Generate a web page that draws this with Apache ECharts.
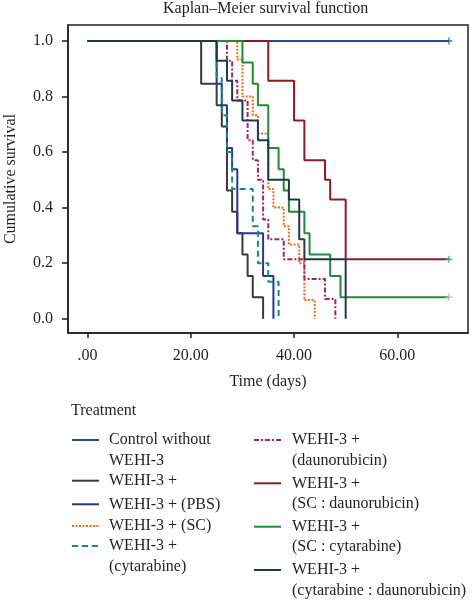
<!DOCTYPE html>
<html>
<head>
<meta charset="utf-8">
<script src="https://cdn.jsdelivr.net/npm/echarts@6/dist/echarts.min.js"></script>
<style>html,body{margin:0;padding:0;background:#fff}#c{width:473px;height:600px}</style>
</head>
<body>
<div id="c"></div>
<script>
// ---- data ----
const titleText = 'Kaplan\u2013Meier survival function';
const xName = 'Time (days)';
const yName = 'Cumulative survival';
const xTicks = [0, 20, 40, 60];
const xTickLabels = ['.00', '20.00', '40.00', '60.00'];
const yTicks = [0, 0.2, 0.4, 0.6, 0.8, 1.0];
const yTickLabels = ['0.0', '0.2', '0.4', '0.6', '0.8', '1.0'];
const legendTitle = 'Treatment';

const controlT = [0, 70];
const controlS = [1, 1];
const wehiT = [0, 22, 25, 26, 27, 28, 29, 30, 31, 32, 34];
const wehiS = [1, 0.846, 0.769, 0.692, 0.462, 0.385, 0.308, 0.231, 0.154, 0.077, 0];
const pbsT = [0, 25, 26, 27, 28, 29, 34, 36];
const pbsS = [1, 0.846, 0.769, 0.615, 0.538, 0.308, 0.154, 0];
const scT = [0, 29, 30, 32, 33, 35, 36, 38, 39, 41, 42, 44];
const scS = [1, 0.933, 0.8, 0.733, 0.667, 0.467, 0.4, 0.333, 0.267, 0.2, 0.067, 0];
const cytT = [0, 25, 26, 27, 28, 32, 33, 35, 37];
const cytS = [1, 0.867, 0.733, 0.6, 0.467, 0.333, 0.2, 0.133, 0];
const dauT = [0, 27, 28, 29, 31, 32, 33, 34, 35, 38, 42, 46, 48];
const dauS = [1, 0.929, 0.857, 0.786, 0.643, 0.571, 0.5, 0.357, 0.286, 0.214, 0.143, 0.071, 0];
const scDauT = [0, 35, 40, 42, 46, 47, 50, 70];
const scDauS = [1, 0.857, 0.714, 0.571, 0.5, 0.429, 0.214, 0.214];
const scCytT = [0, 30, 32, 33, 35, 37, 38, 39, 42, 43, 47, 49, 70];
const scCytS = [1, 0.923, 0.846, 0.769, 0.615, 0.538, 0.462, 0.385, 0.308, 0.231, 0.154, 0.077, 0.077];
const cytDauT = [0, 25, 27, 28, 30, 33, 35, 39, 41, 42, 50];
const cytDauS = [1, 0.929, 0.857, 0.786, 0.714, 0.643, 0.5, 0.429, 0.286, 0.214, 0];

const censorT = [70, 70, 70];
const censorS = [1, 0.214, 0.077];

const legendLabels = [
  ['Control without', 'WEHI-3'],
  ['WEHI-3 +'],
  ['WEHI-3 + (PBS)'],
  ['WEHI-3 + (SC)'],
  ['WEHI-3 +', '(cytarabine)'],
  ['WEHI-3 +', '(daunorubicin)'],
  ['WEHI-3 +', '(SC : daunorubicin)'],
  ['WEHI-3 +', '(SC : cytarabine)'],
  ['WEHI-3 +', '(cytarabine : daunorubicin)']
];

// ---- styling ----
const FONT = '"Liberation Serif", "DejaVu Serif", serif';
const TXT = '#231f20';
const styles = [
  { color: '#2d4b9b', type: 'solid' },
  { color: '#3a3a3a', type: 'solid' },
  { color: '#2b3596', type: 'solid' },
  { color: '#f26a21', type: [2, 1.5] },
  { color: '#17897c', type: [6, 4] },
  { color: '#a3265e', type: [5, 2, 2, 2] },
  { color: '#8b1c1f', type: 'solid' },
  { color: '#22893a', type: 'solid' },
  { color: '#1d3b47', type: 'solid' }
];
const censorColors = ['#2d4b9b', '#2aa0a8', '#b5b5b5'];
const allT = [controlT, wehiT, pbsT, scT, cytT, dauT, scDauT, scCytT, cytDauT];
const allS = [controlS, wehiS, pbsS, scS, cytS, dauS, scDauS, scCytS, cytDauS];

const series = allT.map((t, i) => ({
  type: 'line',
  name: legendLabels[i].join(' '),
  step: 'end',
  symbol: 'none',
  data: t.map((v, j) => [v, allS[i][j]]),
  lineStyle: { color: styles[i].color, width: 2, type: styles[i].type },
  z: 2 + i,
  animation: false
}));
series.push({
  type: 'scatter',
  symbol: 'path://M4,0 L6,0 L6,4 L10,4 L10,6 L6,6 L6,10 L4,10 L4,6 L0,6 L0,4 L4,4 Z',
  symbolSize: 7,
  data: censorT.map((t, i) => ({ value: [t, censorS[i]], itemStyle: { color: censorColors[i] } })),
  z: 20,
  animation: false
});

// legend drawn as graphic
const graphic = [];
graphic.push({ type: 'text', style: { text: legendTitle, x: 71, y: 411, font: '16px ' + FONT, fill: TXT, verticalAlign: 'middle' } });
const col1Y = [440, 480.7, 504.3, 526, 546];
const col2Y = [440, 483.3, 526.7, 570];
const lineGap = 20.5;
legendLabels.forEach((lab, i) => {
  const col = i < 5 ? 0 : 1;
  const y = col === 0 ? col1Y[i] : col2Y[i - 5];
  const lx1 = col === 0 ? 72 : 254;
  const tx = col === 0 ? 109 : 292;
  const st = styles[i];
  graphic.push({ type: 'line', shape: { x1: lx1, y1: y, x2: lx1 + 27, y2: y },
    style: { stroke: st.color, lineWidth: 2, lineDash: st.type === 'solid' ? null : st.type } });
  lab.forEach((s, k) => {
    graphic.push({ type: 'text', style: { text: s, x: tx, y: y + k * lineGap, font: '16px ' + FONT, fill: TXT, verticalAlign: 'middle' } });
  });
});

const chart = echarts.init(document.getElementById('c'), null, { renderer: 'canvas' });
chart.setOption({
  animation: false,
  backgroundColor: '#fff',
  title: { text: titleText, left: 158, top: -4,
    textStyle: { fontFamily: FONT, fontSize: 16, fontWeight: 'normal', color: TXT } },
  grid: { left: 68, right: 5, top: 25, bottom: 267, show: true, borderColor: TXT, borderWidth: 1.5,
    backgroundColor: 'transparent', containLabel: false, outerBoundsMode: 'none' },
  xAxis: {
    type: 'value', min: -3.8, max: 73.7,
    name: xName, nameLocation: 'middle', nameGap: 41,
    nameTextStyle: { fontFamily: FONT, fontSize: 16, color: TXT },
    axisLine: { show: true, onZero: false, lineStyle: { color: TXT, width: 1.5 } },
    axisTick: { show: true, length: 5, lineStyle: { color: TXT, width: 1.5 }, customValues: xTicks },
    axisLabel: { fontFamily: FONT, fontSize: 16, color: TXT, margin: 15, customValues: xTicks,
      formatter: v => xTickLabels[xTicks.indexOf(v)] ?? '' },
    splitLine: { show: false }
  },
  yAxis: {
    type: 'value', min: -0.0515, max: 1.0576,
    name: yName, nameLocation: 'middle', nameGap: 49, nameRotate: 90,
    nameTextStyle: { fontFamily: FONT, fontSize: 16, color: TXT },
    axisLine: { show: true, onZero: false, lineStyle: { color: TXT, width: 1.5 } },
    axisTick: { show: true, length: 6, lineStyle: { color: TXT, width: 1.5 }, customValues: yTicks },
    axisLabel: { fontFamily: FONT, fontSize: 16, color: TXT, margin: 15, customValues: yTicks,
      formatter: v => { const k = yTicks.findIndex(t => Math.abs(t - v) < 1e-6); return k >= 0 ? yTickLabels[k] : ''; } },
    splitLine: { show: false }
  },
  series: series,
  graphic: graphic
});
</script>
</body>
</html>
